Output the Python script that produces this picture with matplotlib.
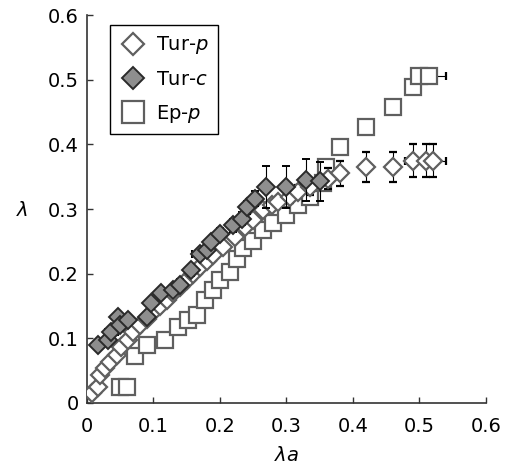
import numpy as np
import matplotlib.pyplot as plt

# Tur-p (open diamonds)
tur_p_x = [0.007, 0.017, 0.02, 0.027, 0.035, 0.045, 0.052, 0.062, 0.07, 0.08, 0.09, 0.10,
           0.11, 0.12, 0.13, 0.14, 0.15, 0.16, 0.17, 0.18, 0.19, 0.205, 0.222, 0.238,
           0.25, 0.265, 0.278, 0.288, 0.305, 0.318, 0.335, 0.363, 0.38, 0.42, 0.46,
           0.49, 0.51, 0.52]
tur_p_y = [0.015, 0.025, 0.043, 0.054, 0.064, 0.074, 0.087, 0.097, 0.11, 0.12, 0.13, 0.14,
           0.15, 0.16, 0.17, 0.18, 0.19, 0.20, 0.21, 0.22, 0.229, 0.242, 0.257, 0.272,
           0.283, 0.298, 0.306, 0.311, 0.319, 0.327, 0.334, 0.347, 0.355, 0.365, 0.365,
           0.375, 0.375, 0.375]
tur_p_yerr = [0.0] * 8 + [0.0, 0.005, 0.0, 0.0, 0.005, 0.0, 0.0, 0.005, 0.0, 0.0,
                          0.0, 0.005, 0.0, 0.005, 0.0, 0.006, 0.0, 0.006, 0.008, 0.006,
                          0.01, 0.01, 0.012, 0.016, 0.02, 0.023, 0.023, 0.025, 0.025, 0.025]
tur_p_xerr = [0.0] * 35 + [0.012, 0.0, 0.02]

# Tur-c (filled diamonds)
tur_c_x = [0.017, 0.032, 0.037, 0.047, 0.05, 0.062, 0.09, 0.097, 0.112, 0.13, 0.14, 0.157,
           0.17, 0.18, 0.187, 0.20, 0.22, 0.233, 0.24, 0.253, 0.27, 0.30, 0.33, 0.35]
tur_c_y = [0.09, 0.097, 0.11, 0.133, 0.12, 0.128, 0.133, 0.154, 0.17, 0.175, 0.183, 0.205,
           0.231, 0.237, 0.249, 0.262, 0.275, 0.285, 0.303, 0.316, 0.334, 0.334, 0.345, 0.343]
tur_c_yerr = [0.0, 0.005, 0.0, 0.005, 0.0, 0.005, 0.005, 0.008, 0.008, 0.0, 0.008, 0.008,
              0.006, 0.008, 0.005, 0.008, 0.01, 0.01, 0.01, 0.012, 0.032, 0.032, 0.033, 0.03]
tur_c_xerr = [0.0, 0.0, 0.01, 0.0, 0.0, 0.0, 0.0, 0.0, 0.0, 0.0, 0.0, 0.0,
              0.012, 0.0, 0.0, 0.0, 0.0, 0.0, 0.0, 0.0, 0.0, 0.0, 0.0, 0.0]

# Ep-p (open squares)
ep_p_x = [0.05, 0.06, 0.072, 0.09, 0.117, 0.137, 0.152, 0.165, 0.177, 0.19, 0.20, 0.215,
          0.225, 0.235, 0.25, 0.265, 0.28, 0.30, 0.318, 0.335, 0.355, 0.36, 0.38, 0.42,
          0.46, 0.49, 0.50, 0.515]
ep_p_y = [0.025, 0.025, 0.072, 0.09, 0.097, 0.118, 0.128, 0.136, 0.16, 0.175, 0.19, 0.203,
          0.222, 0.239, 0.25, 0.267, 0.278, 0.29, 0.306, 0.319, 0.34, 0.365, 0.396, 0.427,
          0.457, 0.488, 0.505, 0.505]
ep_p_yerr = [0.0] * 16 + [0.0, 0.005, 0.008, 0.006, 0.005, 0.005, 0.004, 0.003, 0.005,
                          0.003, 0.004, 0.004]
ep_p_xerr = [0.0] * 27 + [0.025]

plt.rcParams['font.family'] = 'DejaVu Sans'
plt.rcParams['mathtext.fontset'] = 'dejavusans'

fig = plt.figure(figsize=(5.17, 4.70), dpi=100)
ax = fig.add_axes([0.168, 0.1426, 0.772, 0.8254])

edge = '#5f5f5f'
errkw = dict(ecolor='black', elinewidth=0.8, capsize=3, capthick=0.8, linestyle='none')

ax.errorbar(ep_p_x, ep_p_y, yerr=ep_p_yerr, xerr=ep_p_xerr, marker='s', ms=12,
            mfc='white', mec=edge, mew=1.6, label='Ep-$p$', zorder=2, **errkw)
ax.errorbar(tur_p_x, tur_p_y, yerr=tur_p_yerr, xerr=tur_p_xerr, marker='D', ms=9,
            mfc='white', mec=edge, mew=1.6, label='Tur-$p$', zorder=3, **errkw)
ax.errorbar(tur_c_x, tur_c_y, yerr=tur_c_yerr, xerr=tur_c_xerr, marker='D', ms=9,
            mfc='#8e8e8e', mec='#2a2a2a', mew=1.4, label='Tur-$c$', zorder=4, **errkw)

ticks = [0, 0.1, 0.2, 0.3, 0.4, 0.5, 0.6]
tick_labels = ['0', '0.1', '0.2', '0.3', '0.4', '0.5', '0.6']
ax.set_xlim(0, 0.6)
ax.set_ylim(0, 0.6)
ax.set_xticks(ticks)
ax.set_yticks(ticks)
ax.set_xticklabels(tick_labels)
ax.set_yticklabels(tick_labels)
ax.tick_params(direction='in', length=4, width=1, labelsize=14, color='#333333')
ax.tick_params(axis='x', pad=10)
ax.tick_params(axis='y', pad=6)
for s in ['top', 'right']:
    ax.spines[s].set_visible(False)
for s in ['left', 'bottom']:
    ax.spines[s].set_linewidth(1.2)
    ax.spines[s].set_color('#333333')

ax.set_xlabel(r'$\lambda a$', fontsize=14, labelpad=7)
ax.set_ylabel(r'$\lambda$', fontsize=14, rotation=0, va='center', ha='center')
ax.yaxis.set_label_coords(-0.163, 0.497)

h, l = ax.get_legend_handles_labels()
order = [1, 2, 0]
leg = ax.legend([h[i][0] for i in order], [l[i] for i in order], loc='upper left',
                bbox_to_anchor=(0.058, 0.975), fontsize=14, fancybox=False,
                edgecolor='black', framealpha=1, handlelength=1.4, markerscale=1.3,
                borderpad=0.5, labelspacing=0.7, handletextpad=0.45, borderaxespad=0)
leg.get_frame().set_linewidth(1.0)

fig.savefig('out.png', dpi=100)
